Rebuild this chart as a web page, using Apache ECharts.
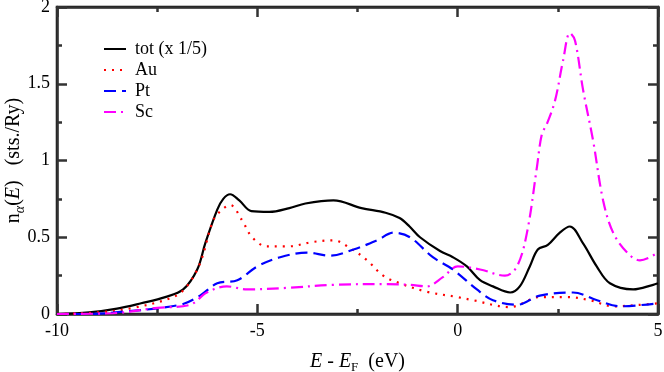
<!DOCTYPE html>
<html>
<head>
<meta charset="utf-8">
<script src="https://cdn.jsdelivr.net/npm/echarts@6/dist/echarts.min.js"></script>
<style>
  html, body { margin: 0; padding: 0; background: #fff; }
  #dos { width: 664px; height: 372px; }
</style>
</head>
<body>
<div id="dos"></div>
<script>
// energies (eV) and DOS values, one pair of arrays per curve
var totE = [-10, -9.2, -8.5, -7.9, -7.3, -6.85, -6.5, -6.3, -6.0, -5.85, -5.68, -5.45, -5.15, -4.7, -4.2, -3.8, -3.1, -2.4, -1.8, -1.45, -1.2, -0.94, -0.44, -0.12, 0.23, 0.56, 0.88, 1.31, 1.55, 1.8, 2.0, 2.25, 2.55, 2.8, 3.13, 3.47, 3.8, 4.38, 4.88, 5];
var totN = [0, 0.01, 0.035, 0.07, 0.11, 0.16, 0.29, 0.46, 0.68, 0.75, 0.78, 0.74, 0.67, 0.665, 0.69, 0.72, 0.74, 0.69, 0.66, 0.625, 0.57, 0.5, 0.41, 0.37, 0.31, 0.22, 0.18, 0.14, 0.18, 0.31, 0.42, 0.45, 0.53, 0.57, 0.46, 0.31, 0.2, 0.16, 0.19, 0.2];

var auE = [-10, -9, -8.1, -7.1, -6.76, -6.43, -6.1, -5.88, -5.68, -5.38, -5.13, -4.76, -4.26, -3.6, -3.1, -2.69, -2.26, -1.86, -1.44, -0.77, 0, 0.38, 1.3, 2.05, 2.73, 3.3, 3.88, 4.55, 5];
var auN = [0, 0.01, 0.04, 0.11, 0.18, 0.33, 0.61, 0.68, 0.71, 0.61, 0.5, 0.44, 0.44, 0.47, 0.48, 0.43, 0.35, 0.25, 0.2, 0.145, 0.11, 0.09, 0.045, 0.11, 0.11, 0.09, 0.05, 0.06, 0.07];

var ptE = [-10, -9.2, -8.35, -6.93, -6.43, -6.0, -5.5, -5.0, -4.43, -3.76, -3.19, -2.6, -2.01, -1.6, -1.19, -0.62, -0.12, 0.48, 0.88, 1.48, 2.05, 2.88, 3.48, 4.05, 5];
var ptN = [0, 0, 0.015, 0.06, 0.12, 0.2, 0.22, 0.31, 0.37, 0.4, 0.38, 0.42, 0.48, 0.53, 0.5, 0.37, 0.29, 0.16, 0.09, 0.06, 0.12, 0.14, 0.09, 0.05, 0.07];

var scE = [-10, -8.6, -7.5, -6.68, -6.26, -5.76, -5.26, -4.26, -3.1, -1.76, -1.19, -0.77, -0.37, 0.0, 0.56, 1.18, 1.48, 1.73, 1.98, 2.1, 2.23, 2.43, 2.63, 2.8, 2.93, 3.13, 3.38, 3.63, 3.88, 4.23, 4.55, 5];
var scN = [0, 0.005, 0.04, 0.06, 0.14, 0.18, 0.16, 0.17, 0.19, 0.195, 0.19, 0.18, 0.24, 0.31, 0.29, 0.25, 0.31, 0.53, 0.96, 1.17, 1.24, 1.39, 1.65, 1.83, 1.78, 1.46, 1.13, 0.74, 0.53, 0.4, 0.35, 0.4];

var names = ['tot (x 1/5)', 'Au', 'Pt', 'Sc'];
var colors = ['#000000', '#ff0000', '#0000ff', '#ff00ff'];
var dashes = ['solid', [2, 6], [12, 6], [12, 5, 2, 5]];

function pairs(xs, ys) {
  return xs.map(function (x, i) { return [x, ys[i]]; });
}

var font = 'Liberation Serif';
var tickCol = '#333';
var chart = echarts.init(document.getElementById('dos'));

// one axis per side, major ticks + minor ticks pointing inward
function side(pos, min, max, step) {
  return {
    type: 'value', position: pos, min: min, max: max, interval: step,
    axisLine: { show: true, onZero: false, lineStyle: { color: tickCol, width: 2.5 } },
    axisTick: { show: true, inside: true, length: 10, lineStyle: { color: tickCol, width: 2.5 } },
    minorTick: { show: true, splitNumber: 2, length: 5, lineStyle: { color: tickCol, width: 2.5 } },
    splitLine: { show: false },
    axisLabel: { show: false }
  };
}

var curves = [[totE, totN], [auE, auN], [ptE, ptN], [scE, scN]];

var xMain = side('bottom', -10, 5, 5);
xMain.axisLabel = { show: true, fontFamily: font, fontSize: 18, color: '#000', margin: 8 };
xMain.name = '{it|E} - {it|E}{sub|F}  (eV)';
xMain.nameLocation = 'middle';
xMain.nameGap = 35;
xMain.nameTextStyle = {
  fontFamily: font, fontSize: 20, color: '#000',
  rich: {
    it: { fontFamily: font, fontSize: 20, fontStyle: 'italic' },
    sub: { fontFamily: font, fontSize: 13, padding: [12, 0, 0, 0] }
  }
};

var yMain = side('left', 0, 2, 0.5);
yMain.axisLabel = { show: true, fontFamily: font, fontSize: 18, color: '#000', margin: 7 };
yMain.name = 'n{sub|α}({it|E})   (sts./Ry)';
yMain.nameLocation = 'middle';
yMain.nameGap = 30;
yMain.nameMoveOverlap = false;
yMain.nameTextStyle = {
  fontFamily: font, fontSize: 20, color: '#000',
  rich: {
    it: { fontFamily: font, fontSize: 20, fontStyle: 'italic' },
    sub: { fontFamily: font, fontSize: 14, fontStyle: 'italic', padding: [12, 0, 0, 0] }
  }
};

var option = {
  animation: false,
  grid: { left: 57, right: 6, top: 7, bottom: 58, outerBoundsMode: 'none',
          show: true, borderColor: '#000', borderWidth: 2.5 },
  legend: {
    orient: 'vertical',
    left: 103,
    top: 40,
    padding: 0,
    itemWidth: 22,
    itemHeight: 18,
    itemGap: 3,
    itemStyle: { opacity: 0 },
    textStyle: { fontFamily: font, fontSize: 18, color: '#000', padding: [0, 0, 0, 4] },
    data: names
  },
  xAxis: [xMain, side('top', -10, 5, 5)],
  yAxis: [yMain, side('right', 0, 2, 0.5)],
  series: curves.map(function (c, i) {
    return {
      name: names[i],
      type: 'line',
      xAxisIndex: 0,
      yAxisIndex: 0,
      data: pairs(c[0], c[1]),
      smooth: 0.35,
      showSymbol: false,
      symbol: 'none',
      lineStyle: { color: colors[i], width: 2.2, type: dashes[i] },
      itemStyle: { color: colors[i] }
    };
  })
};

chart.setOption(option);
</script>
</body>
</html>
